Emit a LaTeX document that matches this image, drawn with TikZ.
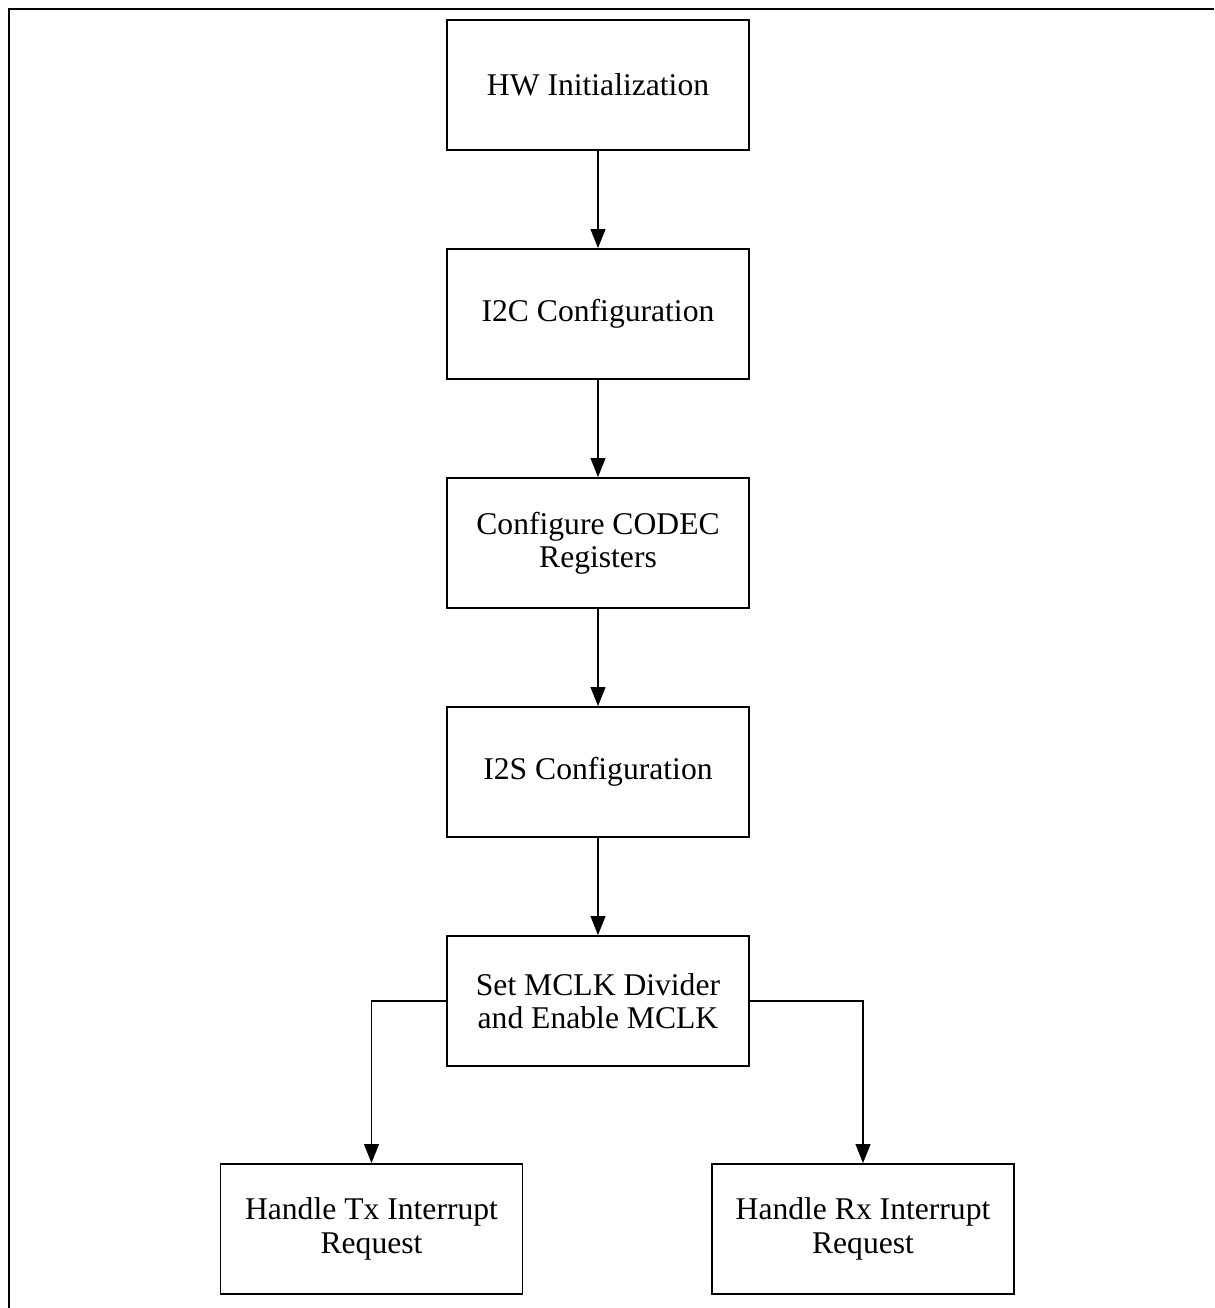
\documentclass[tikz,border=0pt]{standalone}
\usepackage{fontspec}
\setmainfont{Liberation Serif}
\usetikzlibrary{arrows.meta}

\begin{document}
\begin{tikzpicture}[x=0.02cm,y=-0.02cm]
\tikzstyle{block}=[rectangle,draw,line width=1.1pt,minimum width=6.04cm,minimum height=2.6cm,align=center,font=\fontsize{18}{19}\selectfont]
\tikzstyle{link}=[line width=0.6pt,-{Triangle[length=0.38cm,width=0.3cm]}]
\useasboundingbox (0,0) rectangle (1214,1308);
\draw[line width=1.3pt] (9,1308) -- (9,9) -- (1214,9);
\node [block] (hwinit) at (598,85) {HW Initialization};
\node [block] (i2c) at (598,314) {I2C Configuration};
\node [block] (codec) at (598,543) {Configure CODEC\\Registers};
\node [block] (i2s) at (598,772) {I2S Configuration};
\node [block] (mclk) at (598,1001) {Set MCLK Divider\\and Enable MCLK};
\node [block] (txirq) at (371.5,1229) {Handle Tx Interrupt\\Request};
\node [block] (rxirq) at (863,1229) {Handle Rx Interrupt\\Request};
\draw [link] (hwinit) -- (i2c);
\draw [link] (i2c) -- (codec);
\draw [link] (codec) -- (i2s);
\draw [link] (i2s) -- (mclk);
\draw [link] (mclk.west) -| (txirq.north);
\draw [link] (mclk.east) -| (rxirq.north);
\end{tikzpicture}
\end{document}
